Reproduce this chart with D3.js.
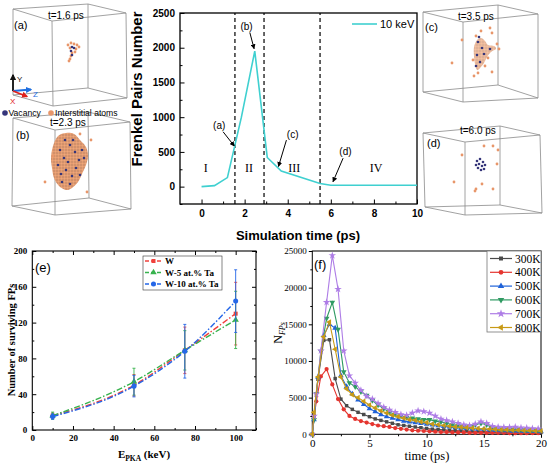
<!DOCTYPE html>
<html>
<head>
<meta charset="utf-8">
<script src="https://cdn.jsdelivr.net/npm/d3@7"></script>
<style>
body { margin: 0; background: #fff; }
svg { display: block; }
</style>
</head>
<body>
<div id="chart"></div>
<script>
// ---- top centre: Frenkel pairs, 10 keV cascade
var mdTime  = [0, 0.6, 1.2, 1.85, 2.47, 3.05, 3.7, 5.5, 6.0, 10];
var mdPairs = [0, 15, 130, 1000, 1950, 420, 225, 45, 20, 20];
var stageBounds = [1.55, 2.9, 5.5];
var stageNames = ['I', 'II', 'III', 'IV'];
var stageAt = [0.2, 2.2, 4.3, 8.1];
var mdNotes = [
    {label: '(a)', x: 0.82, y: 880,  x1: 1.0,  y1: 790,  x2: 1.52, y2: 585},
    {label: '(b)', x: 2.09, y: 2310, x1: 2.24, y1: 2220, x2: 2.44, y2: 1985},
    {label: '(c)', x: 4.23, y: 752,  x1: 3.94, y1: 670,  x2: 3.57, y2: 290},
    {label: '(d)', x: 6.68, y: 512,  x1: 6.57, y1: 410,  x2: 6.1,  y2: 70}
];

// ---- snapshots
var snapLabels = ['(a)', '(b)', '(c)', '(d)'];
var snapTimes = ['t=1.6 ps', 't=2.3 ps', 't=3.5 ps', 't=6.0 ps'];

// ---- (e) surviving FPs vs PKA energy
var energies = [10, 50, 75, 100];
var fpW   = [16, 50, 89, 130];
var errW  = [3, 12, 26, 35];
var fpW5  = [16, 54, 89, 123];
var errW5 = [4, 15, 22, 32];
var fpW10 = [15, 49, 88, 144];
var errW10 = [3, 12, 30, 35];

// ---- (f) N_FPs vs time at several temperatures
var timeEven = [0, 0.15, 0.5, 1, 1.5, 2, 2.5, 3, 3.5, 4, 4.5, 5, 5.5, 6, 6.5, 7, 7.5, 8, 8.5, 9, 9.5,
    10, 10.5, 11, 11.5, 12, 12.5, 13, 13.5, 14, 14.5, 15, 15.5, 16, 16.5, 17, 17.5, 18, 18.5, 19, 19.5, 20];
var timeOdd = [0, 0.15, 0.35, 0.75, 1.25, 1.75, 2.25, 2.75, 3.25, 3.75, 4.25, 4.75, 5.25, 5.75, 6.25, 6.75,
    7.25, 7.75, 8.25, 8.75, 9.25, 9.75, 10.25, 10.75, 11.25, 11.75, 12.25, 12.75, 13.25, 13.75, 14.25,
    14.75, 15.25, 15.75, 16.25, 16.75, 17.25, 17.75, 18.25, 18.75, 19.25, 19.75];
var n300 = [0, 2500, 7500, 12800, 12900, 7600, 4800, 3900, 3400, 3000, 2700, 2400, 2100, 1900, 1700, 1500,
    1300, 1200, 1100, 1000, 900, 800, 700, 650, 600, 550, 500, 450, 450, 400, 400, 400, 350, 350, 300, 300,
    300, 300, 250, 250, 250, 250];
var n400 = [0, 2200, 4500, 7900, 8900, 6800, 4800, 3400, 2500, 2100, 1800, 1600, 1400, 1200, 1100, 1000,
    850, 750, 650, 550, 500, 450, 400, 350, 300, 300, 250, 250, 250, 200, 200, 200, 200, 200, 200, 200,
    150, 150, 150, 150, 150, 150];
var n500 = [0, 2000, 7800, 13500, 15000, 14500, 8000, 6500, 5500, 4700, 4100, 3500, 3100, 2700, 2400, 2200,
    2000, 1800, 1700, 1600, 1500, 1400, 1300, 1200, 1100, 1000, 900, 850, 800, 750, 700, 700, 600, 550,
    500, 500, 450, 450, 400, 400, 400, 350];
var n600 = [0, 2000, 5500, 11300, 15800, 18000, 14300, 8500, 7000, 6500, 5800, 5300, 4600, 4000, 3500, 3000,
    2700, 2500, 2300, 2200, 2100, 2000, 2000, 1800, 1700, 1500, 1300, 1200, 1100, 1100, 1300, 1500, 1300,
    900, 800, 700, 700, 700, 650, 600, 600, 550];
var n700 = [0, 2500, 5500, 11400, 18000, 24400, 19800, 11400, 8000, 7000, 6000, 5200, 4800, 4200, 3700, 3300,
    3000, 2700, 2600, 2900, 3200, 3100, 2900, 2500, 2100, 1900, 1700, 1500, 1300, 1200, 1400, 1700, 1500,
    1100, 1000, 950, 950, 1000, 900, 850, 800, 750];
var n800 = [0, 3000, 7800, 13300, 15300, 11600, 7800, 6200, 5400, 5000, 4500, 4000, 3600, 3200, 2900, 2600,
    2400, 2200, 2000, 1900, 1700, 1600, 1400, 1300, 1200, 1100, 1000, 950, 900, 850, 800, 750, 700, 650,
    600, 600, 550, 550, 500, 500, 450, 450];

var ARIAL = '"Liberation Sans", Arial, sans-serif',
    TIMES = '"Liberation Serif", "Times New Roman", serif',
    ORANGE = '#e8966a',
    NAVY = '#35357a',
    fmt = d3.format('d');

var svg = d3.select('#chart').append('svg')
    .attr('width', 550)
    .attr('height', 464)
    .style('background', '#fff');

var defs = svg.append('defs');
defs.append('marker')
    .attr('id', 'arrow')
    .attr('viewBox', '0 0 10 10')
    .attr('refX', 9).attr('refY', 5)
    .attr('markerWidth', 5).attr('markerHeight', 5)
    .attr('orient', 'auto')
    .append('path').attr('d', 'M0,0L10,5L0,10z').attr('fill', '#000');
['#111', '#1f6fe0', '#e0201c'].forEach(function(c, i) {
    defs.append('marker')
        .attr('id', 'ax' + i)
        .attr('viewBox', '0 0 10 10')
        .attr('refX', 8).attr('refY', 5)
        .attr('markerWidth', 3.5).attr('markerHeight', 3.5)
        .attr('orient', 'auto')
        .append('path').attr('d', 'M0,0L10,5L0,10z').attr('fill', c);
});
var pat = defs.append('pattern')
    .attr('id', 'atoms')
    .attr('width', 3).attr('height', 3)
    .attr('patternUnits', 'userSpaceOnUse');
pat.append('rect').attr('width', 3).attr('height', 3).attr('fill', '#c98a66');
pat.append('circle').attr('cx', 1.5).attr('cy', 1.5).attr('r', 1.2).attr('fill', '#f0a678');

// ============ snapshots ============
var boxes = [
    {back: [[13, 9], [88, 4], [88, 88], [13, 95]],      front: [[52, 21], [126, 13], [127, 98], [53, 106]],
     label: [14, 29], time: [48, 19]},
    {back: [[13, 118], [88, 112], [89, 198], [12, 206]], front: [[55, 130], [130, 122], [131, 209], [55, 215]],
     label: [16, 139], time: [50, 126]},
    {back: [[423, 12], [498, 5], [498, 85], [423, 92]],  front: [[463, 22], [538, 14], [538, 98], [463, 102]],
     label: [425, 31], time: [458, 20]},
    {back: [[423, 133], [500, 126], [500, 205], [425, 207]], front: [[465, 142], [540, 135], [542, 213], [465, 215]],
     label: [427, 147], time: [460, 134]}
];

var blobB = [[58, 136], [66, 133], [74, 134], [80, 140], [86, 147], [88, 156], [86, 165], [82, 174], [78, 182],
    [72, 188], [66, 190], [59, 186], [54, 178], [52, 168], [51, 158], [53, 146]];
var blobC = [[477, 40], [481, 38], [485, 41], [488, 45], [494, 46], [496, 49], [491, 52], [487, 57],
    [484, 63], [480, 68], [477, 70], [475, 64], [474, 56], [474, 47]];
var interstitials = [
    [68, 45], [71, 43], [74, 44], [77, 45], [79, 47], [70, 48], [76, 49], [75, 52], [72, 53], [71, 56], [70, 59], [69, 61],
    [45, 182], [87, 192], [53, 156], [80, 134], [91, 140],
    [481, 31], [490, 28], [492, 33], [462, 40], [452, 63], [492, 72], [499, 49], [476, 36], [497, 44],
    [488, 58], [478, 73], [474, 76], [473, 60], [485, 66],
    [462, 155], [484, 146], [493, 146], [498, 150], [497, 164], [454, 182], [482, 184], [476, 189], [475, 191], [493, 189]
];
var vacancies = [
    [72, 47], [74, 48], [71, 51], [72, 55],
    [60, 150], [64, 158], [70, 145], [75, 152], [79, 160], [66, 170], [72, 176], [62, 182], [76, 168], [68, 162],
    [82, 150], [58, 165], [73, 140], [80, 175], [65, 140], [84, 158], [61, 174], [70, 184],
    [478, 42], [482, 48], [477, 55], [484, 54], [480, 62], [476, 66], [490, 49], [479, 37],
    [477, 161], [480, 159], [483, 162], [479, 164], [482, 166], [485, 165], [478, 168], [481, 170], [484, 169], [476, 165]
];

var snaps = svg.append('g');
boxes.forEach(function(b, i) {
    var g = snaps.append('g'),
        edges = [];
    for (var k = 0; k < 4; k++) {
        edges.push([b.back[k], b.back[(k + 1) % 4]]);
        edges.push([b.front[k], b.front[(k + 1) % 4]]);
        edges.push([b.back[k], b.front[k]]);
    }
    g.selectAll('line').data(edges).enter().append('line')
        .attr('x1', function(d) { return d[0][0]; })
        .attr('y1', function(d) { return d[0][1]; })
        .attr('x2', function(d) { return d[1][0]; })
        .attr('y2', function(d) { return d[1][1]; })
        .attr('stroke', '#8a8a8a')
        .attr('stroke-width', 0.8);
    g.append('text')
        .attr('x', b.label[0]).attr('y', b.label[1])
        .style('font', '11px ' + ARIAL)
        .text(snapLabels[i]);
    g.append('text')
        .attr('x', b.time[0]).attr('y', b.time[1])
        .style('font', '10px ' + ARIAL)
        .text(snapTimes[i]);
});

var blobLine = d3.line().curve(d3.curveCardinalClosed);
[blobB, blobC].forEach(function(b, i) {
    snaps.append('path')
        .attr('d', blobLine(b))
        .attr('fill', 'url(#atoms)')
        .attr('opacity', i ? 0.7 : 1);
});
snaps.selectAll('.int').data(interstitials).enter().append('circle')
    .attr('class', 'int')
    .attr('cx', function(d) { return d[0]; })
    .attr('cy', function(d) { return d[1]; })
    .attr('r', 1.4)
    .attr('fill', ORANGE);
snaps.selectAll('.vac').data(vacancies).enter().append('circle')
    .attr('class', 'vac')
    .attr('cx', function(d) { return d[0]; })
    .attr('cy', function(d) { return d[1]; })
    .attr('r', 1.3)
    .attr('fill', NAVY);

// coordinate triad
var triad = [
    {to: [13, 75], c: '#111', t: 'Y', at: [17, 82]},
    {to: [31, 89.5], c: '#1f6fe0', t: 'Z', at: [33, 97]},
    {to: [27, 96.5], c: '#e0201c', t: 'X', at: [10, 104]}
];
triad.forEach(function(d, i) {
    snaps.append('line')
        .attr('x1', 13).attr('y1', 91)
        .attr('x2', d.to[0]).attr('y2', d.to[1])
        .attr('stroke', d.c).attr('stroke-width', 1.8)
        .attr('marker-end', 'url(#ax' + i + ')');
    snaps.append('text')
        .attr('x', d.at[0]).attr('y', d.at[1])
        .attr('fill', d.c)
        .style('font', '8px ' + ARIAL)
        .text(d.t);
});

// species legend
var spec = snaps.append('g').attr('transform', 'translate(0,113)');
spec.append('circle').attr('cx', 5).attr('r', 2.8).attr('fill', NAVY);
spec.append('text').attr('x', 8.5).attr('y', 3.2).style('font', '8.6px ' + ARIAL).text('Vacancy');
spec.append('circle').attr('cx', 51).attr('r', 2.8).attr('fill', ORANGE);
spec.append('text').attr('x', 55).attr('y', 3.2).style('font', '8.6px ' + ARIAL).text('Interstitial atoms');

// ============ top centre chart ============
var xMd = d3.scaleLinear().domain([-1, 10]).range([180, 417]),
    yMd = d3.scaleLinear().domain([-250, 2500]).range([204, 13]),
    md = svg.append('g');

md.append('g')
    .attr('transform', 'translate(0,204)')
    .call(d3.axisBottom(xMd).tickValues([1, 3, 5, 7, 9]).tickSize(-2.5).tickFormat(''));
md.append('g')
    .attr('transform', 'translate(0,204)')
    .call(d3.axisBottom(xMd).tickValues([0, 2, 4, 6, 8, 10]).tickSize(-4.5).tickPadding(6).tickFormat(fmt))
    .style('font', 'bold 10px ' + ARIAL);
md.append('g')
    .attr('transform', 'translate(180,0)')
    .call(d3.axisLeft(yMd).tickValues([-250, 250, 750, 1250, 1750, 2250]).tickSize(-2.5).tickFormat(''));
md.append('g')
    .attr('transform', 'translate(180,0)')
    .call(d3.axisLeft(yMd).tickValues([0, 500, 1000, 1500, 2000, 2500]).tickSize(-4.5).tickPadding(5).tickFormat(fmt))
    .style('font', 'bold 10px ' + ARIAL);
md.selectAll('.domain').remove();
md.append('rect')
    .attr('x', 180).attr('y', 13)
    .attr('width', 237).attr('height', 191)
    .attr('fill', 'none').attr('stroke', '#000').attr('stroke-width', 1.3);

md.selectAll('.stage').data(stageBounds).enter().append('line')
    .attr('x1', function(d) { return xMd(d); })
    .attr('x2', function(d) { return xMd(d); })
    .attr('y1', yMd(-250)).attr('y2', yMd(2500))
    .attr('stroke', '#000').attr('stroke-width', 1.2)
    .attr('stroke-dasharray', '4,3');

md.selectAll('.roman').data(stageNames).enter().append('text')
    .attr('x', function(d, i) { return xMd(stageAt[i]); })
    .attr('y', yMd(210))
    .attr('text-anchor', 'middle')
    .style('font', '12px ' + TIMES)
    .text(function(d) { return d; });

md.append('path')
    .datum(mdTime)
    .attr('d', d3.line()
        .x(function(d) { return xMd(d); })
        .y(function(d, i) { return yMd(mdPairs[i]); }))
    .attr('fill', 'none')
    .attr('stroke', '#3fd0d0')
    .attr('stroke-width', 1.6);

mdNotes.forEach(function(n) {
    md.append('text')
        .attr('x', xMd(n.x)).attr('y', yMd(n.y) + 3.5)
        .attr('text-anchor', 'middle')
        .style('font', '10px ' + ARIAL)
        .text(n.label);
    md.append('line')
        .attr('x1', xMd(n.x1)).attr('y1', yMd(n.y1))
        .attr('x2', xMd(n.x2)).attr('y2', yMd(n.y2))
        .attr('stroke', '#000').attr('stroke-width', 1)
        .attr('marker-end', 'url(#arrow)');
});

md.append('line')
    .attr('x1', 352).attr('x2', 377).attr('y1', 24).attr('y2', 24)
    .attr('stroke', '#3fd0d0').attr('stroke-width', 1.6);
md.append('text')
    .attr('x', 380).attr('y', 28)
    .style('font', '11px ' + ARIAL)
    .text('10 keV');

md.append('text')
    .attr('transform', 'translate(142,89) rotate(-90)')
    .attr('text-anchor', 'middle')
    .style('font', 'bold 15px ' + ARIAL)
    .text('Frenkel Pairs Number');
md.append('text')
    .attr('x', 298).attr('y', 240)
    .attr('text-anchor', 'middle')
    .style('font', 'bold 13px ' + ARIAL)
    .text('Simulation time (ps)');

// ============ (e) ============
var xE = d3.scaleLinear().domain([0, 110]).range([32.3, 256]),
    yE = d3.scaleLinear().domain([0, 200]).range([430, 251]),
    pe = svg.append('g');

function mirrorTicks(g, scale, axisFn, pos, major, minor, size, labels) {
    g.append('g').attr('transform', pos)
        .call(axisFn(scale).tickValues(minor).tickSize(-size / 2).tickFormat(''));
    var a = g.append('g').attr('transform', pos)
        .call(axisFn(scale).tickValues(major).tickSize(-size).tickPadding(labels ? 5 : 0)
            .tickFormat(labels ? fmt : ''));
    return a;
}
var eMajX = [0, 20, 40, 60, 80, 100], eMinX = [10, 30, 50, 70, 90, 110],
    eMajY = [0, 40, 80, 120, 160, 200], eMinY = [20, 60, 100, 140, 180];
mirrorTicks(pe, xE, d3.axisBottom, 'translate(0,430)', eMajX, eMinX, 4, true)
    .style('font', 'bold 9px ' + TIMES);
mirrorTicks(pe, xE, d3.axisTop, 'translate(0,251)', eMajX, eMinX, 4, false);
mirrorTicks(pe, yE, d3.axisLeft, 'translate(32.3,0)', eMajY, eMinY, 4, true)
    .style('font', 'bold 9px ' + TIMES);
mirrorTicks(pe, yE, d3.axisRight, 'translate(256,0)', eMajY, eMinY, 4, false);
pe.selectAll('.domain').remove();
pe.append('rect')
    .attr('x', 32.3).attr('y', 251)
    .attr('width', 256 - 32.3).attr('height', 179)
    .attr('fill', 'none').attr('stroke', '#000').attr('stroke-width', 1.1);

var seriesE = [
    {name: 'W', v: fpW, e: errW, color: '#f0413c', shape: d3.symbolSquare, size: 16},
    {name: 'W-5 at.% Ta', v: fpW5, e: errW5, color: '#37b24d', shape: d3.symbolTriangle, size: 18},
    {name: 'W-10 at.% Ta', v: fpW10, e: errW10, color: '#2567e8', shape: d3.symbolCircle, size: 20}
];
var lineE = d3.line()
    .x(function(d) { return xE(d[0]); })
    .y(function(d) { return yE(d[1]); })
    .curve(d3.curveMonotoneX);
seriesE.forEach(function(s) {
    var pts = energies.map(function(x, i) { return [x, s.v[i], s.e[i]]; });
    var g = pe.append('g');
    g.append('path')
        .attr('d', lineE(pts))
        .attr('fill', 'none')
        .attr('stroke', s.color)
        .attr('stroke-width', 1.4)
        .attr('stroke-dasharray', '6,2,1.5,2');
    g.selectAll('.err').data(pts).enter().append('path')
        .attr('d', function(d) {
            var x = xE(d[0]), y0 = yE(d[1] - d[2]), y1 = yE(d[1] + d[2]);
            return 'M' + x + ',' + y0 + 'V' + y1 + 'M' + (x - 1.5) + ',' + y0 + 'h3M' + (x - 1.5) + ',' + y1 + 'h3';
        })
        .attr('stroke', s.color)
        .attr('stroke-width', 0.9)
        .attr('fill', 'none');
    g.selectAll('.mk').data(pts).enter().append('path')
        .attr('transform', function(d) { return 'translate(' + xE(d[0]) + ',' + yE(d[1]) + ')'; })
        .attr('d', d3.symbol().type(s.shape).size(s.size))
        .attr('fill', s.color);
});

var legE = pe.append('g');
legE.append('rect')
    .attr('x', 143).attr('y', 256).attr('width', 79).attr('height', 34)
    .attr('fill', '#fff').attr('stroke', '#333').attr('stroke-width', 0.6);
seriesE.forEach(function(s, i) {
    var y = 261 + i * 11.5;
    legE.append('line')
        .attr('x1', 145).attr('x2', 162).attr('y1', y).attr('y2', y)
        .attr('stroke', s.color).attr('stroke-width', 1.3)
        .attr('stroke-dasharray', '4,2');
    legE.append('path')
        .attr('transform', 'translate(153.5,' + y + ')')
        .attr('d', d3.symbol().type(s.shape).size(s.size))
        .attr('fill', s.color);
    legE.append('text')
        .attr('x', 165).attr('y', y + 3)
        .style('font', 'bold 9px ' + TIMES)
        .text(s.name);
});

pe.append('text')
    .attr('x', 35).attr('y', 272)
    .style('font', '13px ' + ARIAL)
    .text('(e)');
pe.append('text')
    .attr('transform', 'translate(15,340) rotate(-90)')
    .attr('text-anchor', 'middle')
    .style('font', 'bold 10.5px ' + TIMES)
    .text('Number of surviving FPs');
var xlabE = pe.append('text')
    .attr('x', 144).attr('y', 458)
    .attr('text-anchor', 'middle')
    .style('font', 'bold 11px ' + TIMES);
xlabE.append('tspan').text('E');
xlabE.append('tspan').attr('dy', 3).style('font-size', '7.5px').text('PKA');
xlabE.append('tspan').attr('dy', -3).text(' (keV)');

// ============ (f) ============
var xF = d3.scaleLinear().domain([0, 20]).range([312.3, 541]),
    yF = d3.scaleLinear().domain([0, 25000]).range([434.3, 251]),
    pf = svg.append('g');

pf.append('g').attr('transform', 'translate(0,434.3)')
    .call(d3.axisBottom(xF).tickValues([2.5, 7.5, 12.5, 17.5]).tickSize(2).tickFormat(''));
pf.append('g').attr('transform', 'translate(0,434.3)')
    .call(d3.axisBottom(xF).tickValues([0, 5, 10, 15, 20]).tickSize(3.5).tickPadding(1).tickFormat(fmt))
    .style('font', '11px ' + TIMES);
pf.append('g').attr('transform', 'translate(312.3,0)')
    .call(d3.axisLeft(yF).tickValues([2500, 7500, 12500, 17500, 22500]).tickSize(2).tickFormat(''));
pf.append('g').attr('transform', 'translate(312.3,0)')
    .call(d3.axisLeft(yF).tickValues([0, 5000, 10000, 15000, 20000, 25000]).tickSize(3.5).tickPadding(2).tickFormat(fmt))
    .style('font', '9px ' + TIMES);
pf.selectAll('.domain').remove();
pf.append('rect')
    .attr('x', 312.3).attr('y', 251)
    .attr('width', 541 - 312.3).attr('height', 434.3 - 251)
    .attr('fill', 'none').attr('stroke', '#000').attr('stroke-width', 1);

var seriesF = [
    {name: '300K', t: timeEven, v: n300, color: '#4a4a4a', shape: d3.symbolSquare, size: 12, rot: 0},
    {name: '400K', t: timeOdd,  v: n400, color: '#e5352f', shape: d3.symbolCircle, size: 14, rot: 0},
    {name: '500K', t: timeEven, v: n500, color: '#1f62d8', shape: d3.symbolTriangle, size: 14, rot: 0},
    {name: '600K', t: timeOdd,  v: n600, color: '#2f9a62', shape: d3.symbolTriangle, size: 14, rot: 180},
    {name: '700K', t: timeOdd,  v: n700, color: '#ae7de6', shape: d3.symbolStar, size: 18, rot: 0},
    {name: '800K', t: timeEven, v: n800, color: '#c89a16', shape: d3.symbolTriangle, size: 14, rot: -90}
];
var lineF = d3.line()
    .x(function(d) { return xF(d[0]); })
    .y(function(d) { return yF(d[1]); });
seriesF.forEach(function(s) {
    var pts = s.t.map(function(t, i) { return [t, s.v[i]]; });
    var g = pf.append('g');
    g.append('path')
        .attr('d', lineF(pts))
        .attr('fill', 'none')
        .attr('stroke', s.color)
        .attr('stroke-width', 1.1);
    g.selectAll('path.mk').data(pts).enter().append('path')
        .attr('class', 'mk')
        .attr('transform', function(d) {
            return 'translate(' + xF(d[0]) + ',' + yF(d[1]) + ') rotate(' + s.rot + ')';
        })
        .attr('d', d3.symbol().type(s.shape).size(s.size))
        .attr('fill', s.color);
});

var legF = pf.append('g');
legF.append('rect')
    .attr('x', 487).attr('y', 251).attr('width', 54).attr('height', 81)
    .attr('fill', '#fff').attr('stroke', '#777').attr('stroke-width', 0.8);
seriesF.forEach(function(s, i) {
    var y = 258.5 + i * 13.8;
    legF.append('line')
        .attr('x1', 490).attr('x2', 512).attr('y1', y).attr('y2', y)
        .attr('stroke', s.color).attr('stroke-width', 1.2);
    legF.append('path')
        .attr('transform', 'translate(501,' + y + ') rotate(' + s.rot + ')')
        .attr('d', d3.symbol().type(s.shape).size(s.size + 4))
        .attr('fill', s.color);
    legF.append('text')
        .attr('x', 515).attr('y', y + 4)
        .style('font', '11.5px ' + TIMES)
        .text(s.name);
});

pf.append('text')
    .attr('x', 314).attr('y', 269)
    .style('font', '13px ' + ARIAL)
    .text('(f)');
var ylabF = pf.append('text')
    .attr('transform', 'translate(282,333) rotate(-90)')
    .attr('text-anchor', 'middle')
    .style('font', '12px ' + TIMES);
ylabF.append('tspan').text('N');
ylabF.append('tspan').attr('dy', 3).style('font-size', '8px').style('font-style', 'italic').text('FPs');
pf.append('text')
    .attr('x', 427).attr('y', 460)
    .attr('text-anchor', 'middle')
    .style('font', '12.5px ' + TIMES)
    .text('time (ps)');
</script>
</body>
</html>
